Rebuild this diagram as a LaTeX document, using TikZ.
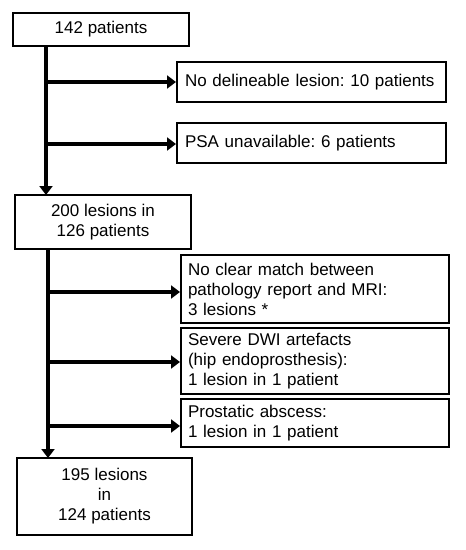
\documentclass[tikz,border=0pt]{standalone}
\usepackage{fontspec}
\setmainfont{Liberation Sans}
\usetikzlibrary{arrows.meta}
\frenchspacing
\begin{document}
\begin{tikzpicture}[x=1pt,y=-1pt,
  box/.style={draw,line width=2pt,inner sep=0pt,font=\fontsize{17}{20}\selectfont\frenchspacing},
  cbox/.style={box,align=center},
  lbox/.style={box,align=left},
  conn/.style={line width=4pt,-{Triangle[length=9pt,width=13pt]}}]
\useasboundingbox (0,0) rectangle (466,550);
\fill[white] (0,0) rectangle (466,550);
\node[cbox,minimum width=176pt,minimum height=33pt] (b1) at (101,29.5) {142 patients};
\node[lbox,minimum width=269pt,minimum height=40pt,text width=253pt] (r1) at (311.5,82) {No delineable lesion: 10 patients};
\node[lbox,minimum width=269pt,minimum height=40pt,text width=253pt] (r2) at (311.5,143) {PSA unavailable: 6 patients};
\node[cbox,minimum width=176pt,minimum height=54pt] (b2) at (103,222) {200 lesions in\\126 patients};
\node[lbox,minimum width=268pt,minimum height=68pt,text width=254pt] (r3) at (315,289) {No clear match between\\pathology report and MRI:\\3 lesions *};
\node[lbox,minimum width=268pt,minimum height=66pt,text width=254pt] (r4) at (315,361) {Severe DWI artefacts\\(hip endoprosthesis):\\1 lesion in 1 patient};
\node[lbox,minimum width=268pt,minimum height=48pt,text width=254pt] (r5) at (315,423) {Prostatic abscess:\\1 lesion in 1 patient};
\node[cbox,minimum width=175pt,minimum height=77pt] (b3) at (104.5,496.5) {195 lesions\\in\\124 patients};
% main trunk 1
\coordinate (t1) at (46,46);
\coordinate (t1b) at (46,195);
\draw[conn] (t1) -- (t1b);
\coordinate (a1) at (46,82);
\coordinate (a2) at (46,144);
\draw[conn] (a1) -- (a1 -| r1.west);
\draw[conn] (a2) -- (a2 -| r2.west);
% main trunk 2
\coordinate (t2) at (48,249);
\coordinate (t2b) at (48,458);
\draw[conn] (t2) -- (t2b);
\coordinate (a3) at (48,292);
\coordinate (a4) at (48,362);
\coordinate (a5) at (48,426);
\draw[conn] (a3) -- (a3 -| r3.west);
\draw[conn] (a4) -- (a4 -| r4.west);
\draw[conn] (a5) -- (a5 -| r5.west);
\end{tikzpicture}
\end{document}
